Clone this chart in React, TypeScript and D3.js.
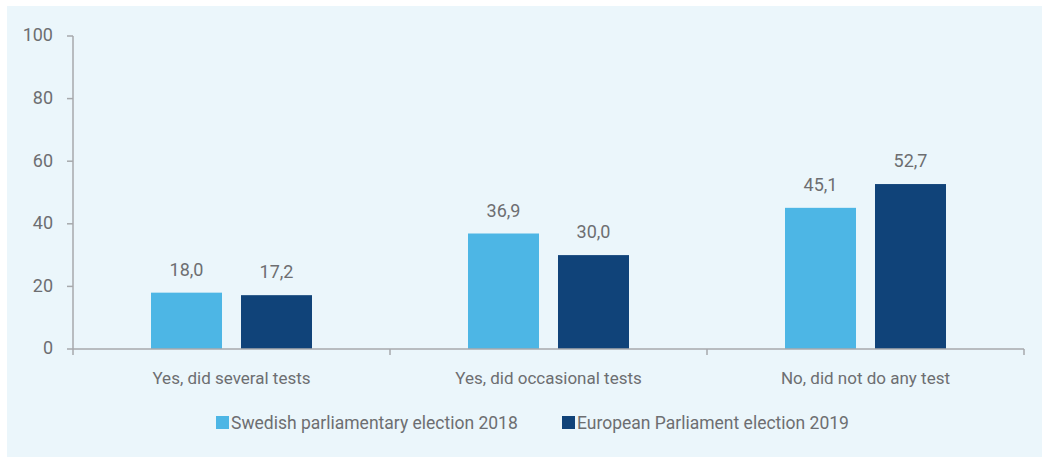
import React from "react";
import * as d3 from "d3";

const categories = ["Yes, did several tests", "Yes, did occasional tests", "No, did not do any test"];
const seriesNames = ["Swedish parliamentary election 2018", "European Parliament election 2019"];
const swedish2018 = [18.0, 36.9, 45.1];
const european2019 = [17.2, 30.0, 52.7];
const yTicks = [0, 20, 40, 60, 80, 100];

const W = 1042;
const H = 457;
const colors = ["#4DB6E5", "#104379"];
const textColor = "#6D6E71";
const axisColor = "#A7A9AC";
const FONT = "Roboto, 'Open Sans', sans-serif";

export default function App() {
  const x0 = 73, x1 = 1024, yTop = 36, yBot = 349;
  const y = d3.scaleLinear().domain([0, 100]).range([yBot, yTop]);
  const xCat = d3.scaleBand<string>().domain(categories).range([x0, x1]).paddingInner(0).paddingOuter(0);
  const groupW = 161;
  const xSer = d3.scaleBand<string>().domain(seriesNames).range([0, groupW]).paddingInner(0.211).paddingOuter(0);
  const series = [swedish2018, european2019];
  const fmt = (v: number) => v.toFixed(1).replace(".", ",");
  const bounds = [x0, ...categories.map((c) => (xCat(c) as number) + xCat.bandwidth())];

  return (
    <svg width={W} height={H} style={{ position: "absolute", left: 0, top: 0, fontFamily: FONT }}>
      <rect x={7} y={6} width={W - 7} height={H - 6} fill="#EBF6FB" />
      {yTicks.map((t) => (
        <g key={t}>
          <line x1={x0 - 6} x2={x0} y1={y(t)} y2={y(t)} stroke={axisColor} strokeWidth={1.5} />
          <text x={53} y={y(t)} dy="0.3em" textAnchor="end" fontSize={18} fill={textColor}>{t}</text>
        </g>
      ))}
      <line x1={x0} x2={x0} y1={yTop} y2={yBot} stroke={axisColor} strokeWidth={1.5} />
      {categories.map((c, ci) => {
        const gx = (xCat(c) as number) + (xCat.bandwidth() - groupW) / 2;
        return (
          <g key={c}>
            {seriesNames.map((s, si) => {
              const v = series[si][ci];
              const bx = gx + (xSer(s) as number);
              return (
                <g key={s}>
                  <rect x={bx} y={y(v)} width={xSer.bandwidth()} height={yBot - y(v)} fill={colors[si]} />
                  <text x={bx + xSer.bandwidth() / 2} y={y(v) - 17} textAnchor="middle" fontSize={18} fill={textColor}>{fmt(v)}</text>
                </g>
              );
            })}
            <text x={(xCat(c) as number) + xCat.bandwidth() / 2} y={384} textAnchor="middle" fontSize={17} fill={textColor}>{c}</text>
          </g>
        );
      })}
      <line x1={x0} x2={x1} y1={yBot} y2={yBot} stroke={axisColor} strokeWidth={1.5} />
      {bounds.map((b, i) => (
        <line key={i} x1={b} x2={b} y1={yBot} y2={yBot + 6} stroke={axisColor} strokeWidth={1.5} />
      ))}
      {seriesNames.map((s, si) => {
        const lx = si === 0 ? 216 : 562;
        return (
          <g key={s}>
            <rect x={lx} y={416} width={13} height={13} fill={colors[si]} />
            <text x={lx + 15} y={429} fontSize={17.5} fill={textColor}>{s}</text>
          </g>
        );
      })}
    </svg>
  );
}
